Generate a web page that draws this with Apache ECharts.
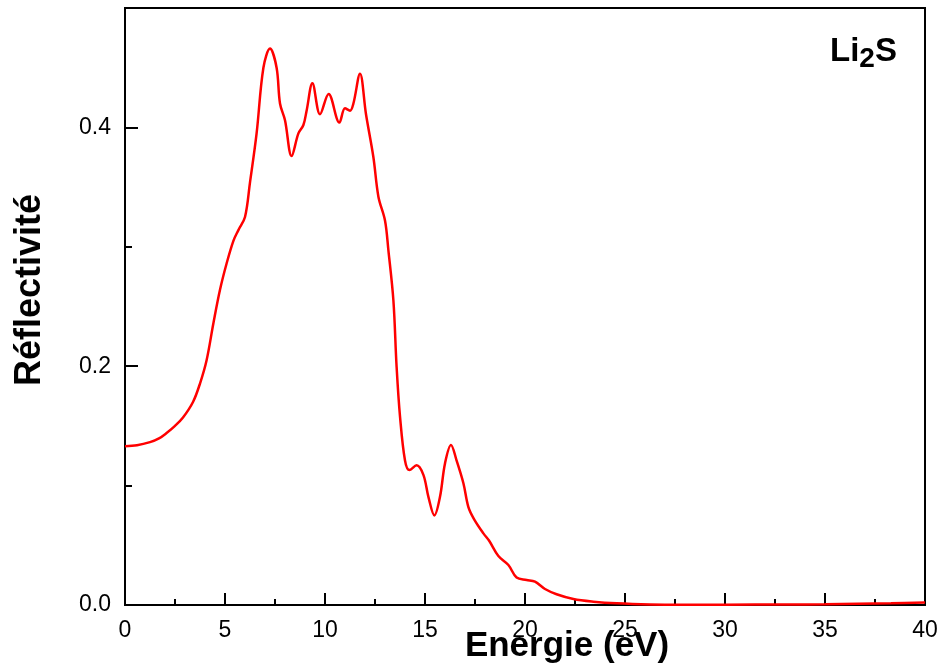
<!DOCTYPE html>
<html>
<head>
<meta charset="utf-8">
<script src="https://cdn.jsdelivr.net/npm/echarts@6/dist/echarts.min.js"></script>
<style>
html,body{margin:0;padding:0;background:#fff;}
#chart{width:944px;height:671px;}
</style>
</head>
<body>
<div id="chart"></div>
<script>
var energy = [0, 0.6, 1.25, 1.7, 2.08, 2.5, 2.9, 3.4, 3.75, 4.08, 4.42, 4.75, 5.08, 5.42, 5.67, 6.0, 6.25, 6.58, 6.92, 7.25, 7.58, 7.75, 8.0, 8.33, 8.67, 8.92, 9.08, 9.37, 9.75, 10.18, 10.72, 11.0, 11.25, 11.42, 11.75, 12.05, 12.42, 12.67, 13.0, 13.17, 13.42, 13.58, 13.75, 14.0, 14.22, 14.58, 14.92, 15.17, 15.47, 15.75, 16.0, 16.3, 16.58, 16.92, 17.17, 17.45, 17.92, 18.2, 18.67, 19.17, 19.58, 20.08, 20.5, 21.0, 21.58, 22.42, 23.42, 24.58, 26.25, 28, 30, 33, 35, 38.3, 40];
var reflectivity = [0.133, 0.1338, 0.1364, 0.1395, 0.144, 0.150, 0.157, 0.170, 0.1855, 0.205, 0.236, 0.264, 0.286, 0.305, 0.314, 0.325, 0.354, 0.395, 0.450, 0.466, 0.450, 0.420, 0.406, 0.376, 0.395, 0.402, 0.414, 0.437, 0.411, 0.428, 0.404, 0.416, 0.414, 0.420, 0.445, 0.411, 0.375, 0.342, 0.322, 0.297, 0.255, 0.1995, 0.158, 0.121, 0.113, 0.117, 0.109, 0.0906, 0.075, 0.0906, 0.1186, 0.134, 0.121, 0.102, 0.082, 0.072, 0.060, 0.054, 0.041, 0.0335, 0.023, 0.021, 0.0195, 0.0134, 0.009, 0.005, 0.0028, 0.0014, 0.0005, 0.0003, 0.0003, 0.0004, 0.0006, 0.0014, 0.002];
var xTitle = 'Energie (eV)';
var yTitle = 'Réflectivité';
var compound = ['Li', '2', 'S'];

var points = energy.map(function (e, i) { return [e, reflectivity[i]]; });
var font = 'Liberation Sans, Arial, sans-serif';

var chart = echarts.init(document.getElementById('chart'), null, {renderer: 'canvas'});
chart.setOption({
  animation: false,
  backgroundColor: '#fff',
  grid: {left: 125, right: 19, top: 8, bottom: 66, show: true, borderColor: '#000', borderWidth: 2, containLabel: false},
  xAxis: {
    type: 'value', min: 0, max: 40, interval: 5,
    axisLine: {lineStyle: {color: '#000', width: 2}},
    axisTick: {inside: true, length: 12, lineStyle: {color: '#000', width: 2}},
    minorTick: {show: true, splitNumber: 2, length: 6, lineStyle: {color: '#000', width: 2}},
    splitLine: {show: false},
    axisLabel: {color: '#000', fontSize: 23, fontFamily: font, margin: 14}
  },
  yAxis: [{
    type: 'value', min: 0, max: 0.5, interval: 0.2,
    axisLine: {show: true, lineStyle: {color: '#000', width: 2}},
    axisTick: {show: true, inside: true, length: 13, lineStyle: {color: '#000', width: 2}},
    splitLine: {show: false},
    axisLabel: {color: '#000', fontSize: 23, fontFamily: font, margin: 14, showMaxLabel: false,
      formatter: function (v) { return v.toFixed(1); }}
  }, {
    type: 'value', min: 0, max: 0.5, interval: 0.1, position: 'left',
    axisLine: {show: false},
    axisTick: {show: true, inside: true, length: 7, lineStyle: {color: '#000', width: 2}},
    splitLine: {show: false},
    axisLabel: {show: false}
  }],
  series: [{
    type: 'line', data: points, yAxisIndex: 0, showSymbol: false, smooth: 0.35,
    lineStyle: {color: '#ff0000', width: 2.5}
  }],
  graphic: [{
    type: 'text', x: 567, y: 646,
    style: {text: xTitle, font: 'bold 35px ' + font, fill: '#000', textAlign: 'center', textVerticalAlign: 'middle'}
  }, {
    type: 'text', x: 30, y: 290, rotation: Math.PI / 2,
    style: {text: yTitle, font: 'bold 36px ' + font, fill: '#000', textAlign: 'center', textVerticalAlign: 'middle'}
  }, {
    type: 'text', x: 830, y: 52,
    style: {
      text: '{a|' + compound[0] + '}{b|' + compound[1] + '}{a|' + compound[2] + '}',
      textAlign: 'left', textVerticalAlign: 'middle',
      rich: {
        a: {fontFamily: font, fontWeight: 'bold', fontSize: 33, fill: '#000', color: '#000'},
        b: {fontFamily: font, fontWeight: 'bold', fontSize: 28, fill: '#000', color: '#000', padding: [15, 0, 0, 0]}
      }
    }
  }]
});
</script>
</body>
</html>
